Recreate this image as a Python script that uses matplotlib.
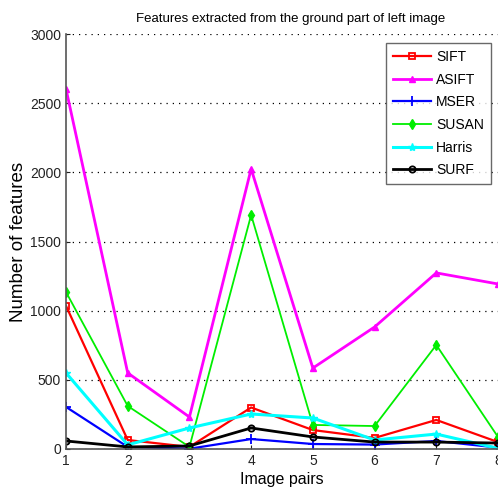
import numpy as np
import matplotlib.pyplot as plt

plt.rcParams['font.family'] = ['Liberation Sans', 'DejaVu Sans']

# image pair index
pairs = [1, 2, 3, 4, 5, 6, 7, 8]

# number of features detected per method
sift = [1035, 65, 15, 300, 137, 80, 210, 50]
asift = [2603, 550, 231, 2025, 585, 882, 1273, 1193]
mser = [304, 15, 2, 72, 36, 32, 58, 10]
susan = [1135, 311, 15, 1692, 174, 166, 752, 87]
harris = [550, 30, 152, 253, 224, 65, 108, 5]
surf = [58, 15, 22, 152, 87, 50, 50, 43]

fig = plt.figure(figsize=(4.98, 5.0), dpi=100)
ax = fig.add_axes([66 / 498, 51 / 500, 432 / 498, 415 / 500])

ax.plot(pairs, sift, color='red', lw=1.6, marker='s', ms=5, mfc='none', mew=1.3, label='SIFT')
ax.plot(pairs, asift, color='magenta', lw=2.0, marker='^', ms=5, label='ASIFT')
ax.plot(pairs, mser, color='blue', lw=1.6, marker='+', ms=7, mew=1.3, label='MSER')
ax.plot(pairs, susan, color='#00ee00', lw=1.3, marker='d', ms=5, label='SUSAN')
ax.plot(pairs, harris, color='cyan', lw=2.2, marker='*', ms=6, label='Harris')
ax.plot(pairs, surf, color='black', lw=2.0, marker='o', ms=4.5, mfc='none', mew=1.3, label='SURF')

ax.set_xlim(1, 8)
ax.set_ylim(0, 3000)
ax.set_xticks(pairs)
ax.set_yticks(np.arange(0, 3001, 500))
ax.tick_params(direction='in', length=3, labelsize=10, colors='#222222')
ax.yaxis.grid(True, linestyle=(0, (1, 4)), color='black', lw=0.9)
ax.set_axisbelow(True)

for side in ['top', 'right']:
    ax.spines[side].set_visible(False)
for side in ['left', 'bottom']:
    ax.spines[side].set_color('#555555')
    ax.spines[side].set_linewidth(1.2)

ax.set_xlabel('Image pairs', fontsize=11.5, labelpad=3)
ax.set_ylabel('Number of features', fontsize=13.5, labelpad=2)
ax.set_title('Features extracted from the ground part of left image', fontsize=9.5, pad=9, x=0.52)

leg = ax.legend(loc='upper right', bbox_to_anchor=(0.984, 0.978), borderaxespad=0,
                fontsize=10, frameon=True, fancybox=False, edgecolor='#444444',
                handlelength=2.8, handletextpad=0.35, labelspacing=0.62,
                borderpad=0.5)
leg.get_frame().set_linewidth(1.0)

fig.savefig('out.png', dpi=100)
